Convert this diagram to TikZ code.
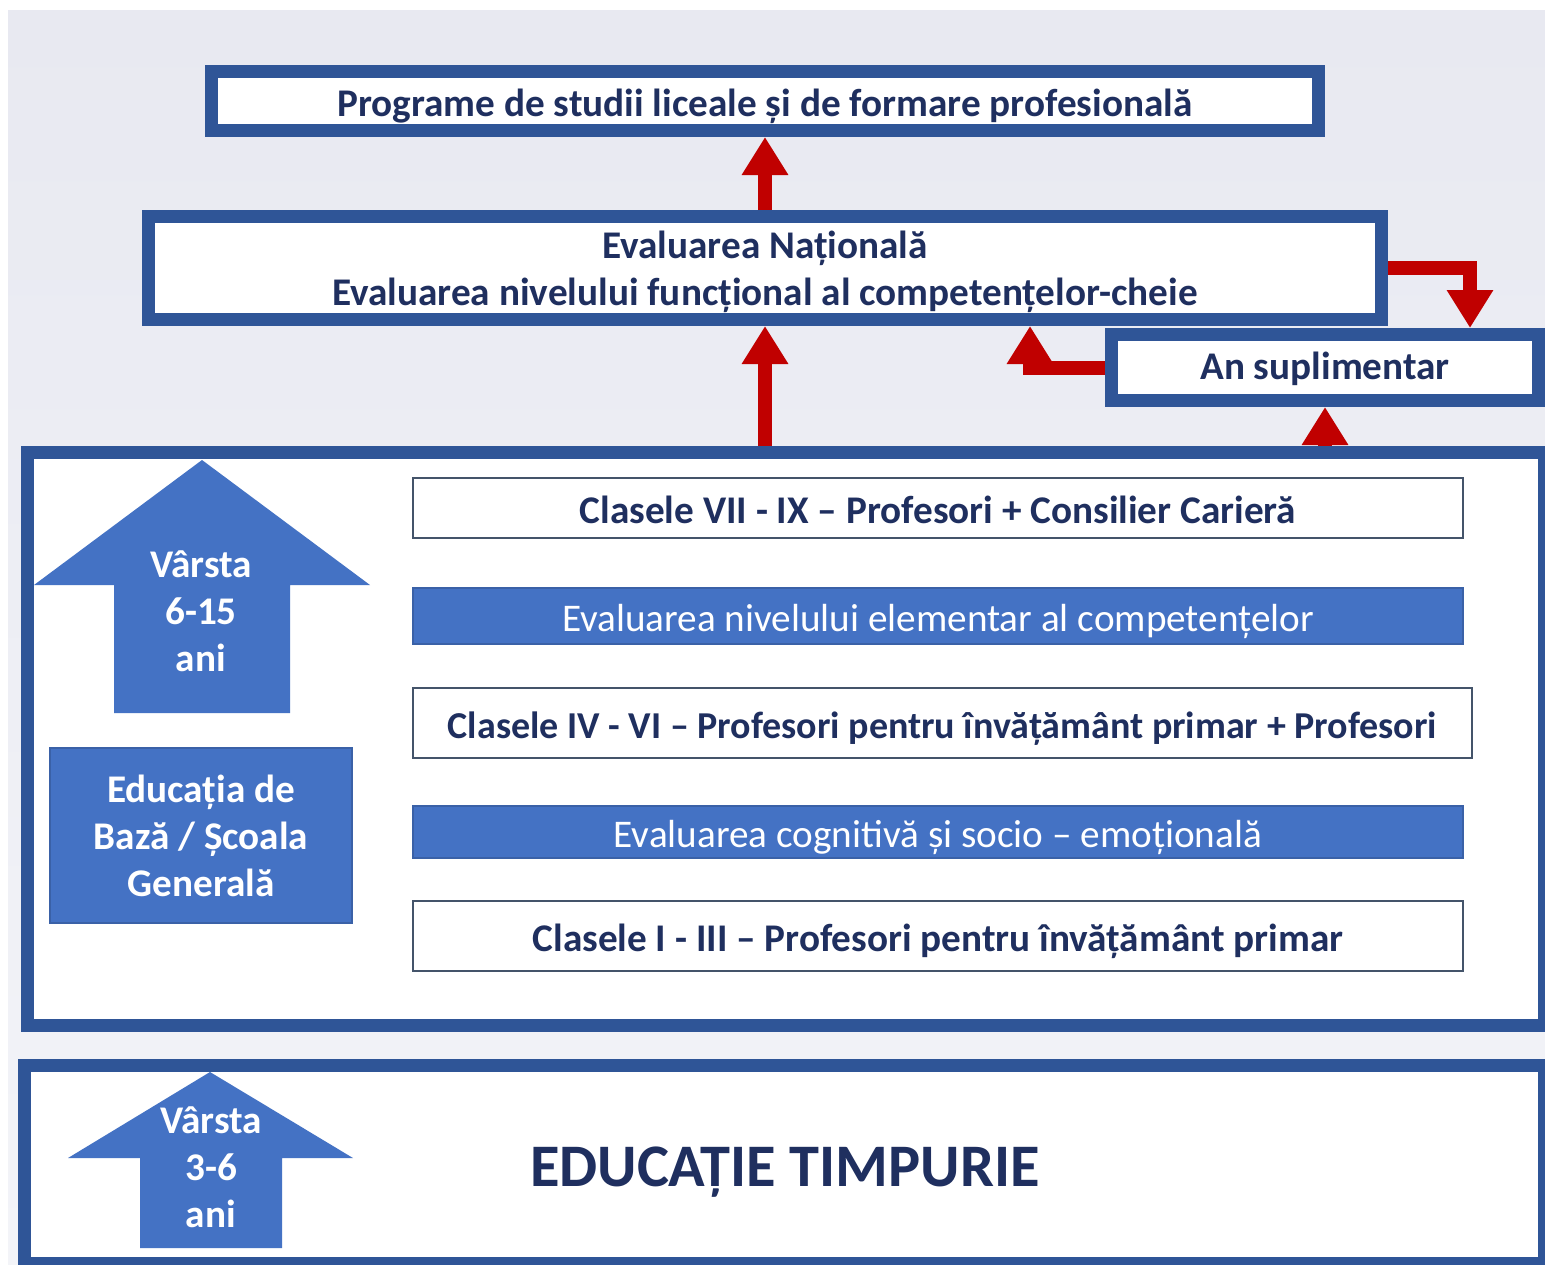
\documentclass[tikz,border=0pt]{standalone}
\usepackage{fontspec}
\setmainfont{Carlito}
\usetikzlibrary{arrows.meta,calc}
\definecolor{frameblue}{HTML}{2F5597}
\definecolor{fillblue}{HTML}{4472C4}
\definecolor{navy}{HTML}{1F2F5F}
\definecolor{arrowred}{HTML}{C00000}
\definecolor{rowline}{HTML}{44546A}
\definecolor{bgtop}{HTML}{E8E9F1}
\definecolor{bgbot}{HTML}{F3F4F8}
\begin{document}
\begin{tikzpicture}[x=0.5pt,y=-0.5pt,
  txtstyle/.style={font=\fontsize{19.6}{23.5}\selectfont\bfseries, text=navy},
  oneline/.style={text height=15.7pt, text depth=0pt},
  boxframe/.style={draw=frameblue, line width=6.5pt, fill=white, inner sep=0pt, txtstyle, align=center},
  rowbox/.style={draw=rowline, line width=1pt, fill=white, inner sep=0pt, minimum width=525pt, txtstyle, oneline},
  bluerow/.style={draw=fillblue!85!black, line width=0.6pt, fill=fillblue, inner sep=0pt, minimum width=525pt, font=\fontsize{19.6}{23.5}\selectfont, text=white, oneline},
  lefttxt/.style={font=\fontsize{19.6}{23.5}\selectfont\bfseries, text=white, align=center, inner sep=0pt},
  bluebox/.style={fill=fillblue, draw=fillblue!85!black, line width=0.6pt, lefttxt, minimum width=151pt, minimum height=87.5pt},
  redarrow/.style={draw=arrowred, line width=7pt, -{Triangle[width=22pt,length=19pt]}},
  blockarrow/.style={fill=fillblue}
]
\useasboundingbox (0,0) rectangle (1545,1264);
\fill[white] (0,0) rectangle (1545,1264);
\shade[top color=bgtop, bottom color=bgbot] (8,10) rectangle (1545,1264);

% frames
\node[boxframe, oneline, minimum width=553.5pt, minimum height=29.5pt] (prog) at (765,101) {Programe de studii liceale și de formare profesională};
\node[boxframe, minimum width=616.5pt, minimum height=51.5pt] (natl) at (765,268) {\rule{0pt}{17.5pt}Evaluarea Națională\\Evaluarea nivelului funcțional al competențelor-cheie};
\node[boxframe, text height=12pt, text depth=0pt, minimum width=213.5pt, minimum height=33pt] (ansup) at (1325,367.5) {An suplimentar};
\node[boxframe, minimum width=758.5pt, minimum height=286.5pt] (gen) at (785.5,738.5) {};
\node[boxframe, minimum width=760pt, minimum height=99pt] (early) at (784,1164) {};

% red arrows
\coordinate (rx) at (1470,0);
\coordinate (lx) at (1030,0);
\draw[redarrow] (natl.north) -- (prog.south);
\draw[redarrow] (natl.south |- gen.north) -- (natl.south);
\draw[redarrow] (natl.east) -| (rx |- ansup.north);
\draw[redarrow] (ansup.west) -| (lx |- natl.south);
\draw[redarrow] (ansup.south |- gen.north) -- (ansup.south);

% rows
\node[rowbox, minimum height=30pt] (r1) at (938,508) {Clasele VII - IX – Profesori + Consilier Carieră};
\node[bluerow, minimum height=28pt] (r2) at (938,616) {Evaluarea nivelului elementar al competențelor};
\node[rowbox, font=\fontsize{19}{23}\selectfont\bfseries, minimum width=529.5pt, minimum height=35pt] (r3) at (942.5,723) {Clasele IV - VI – Profesori pentru învățământ primar + Profesori};
\node[bluerow, minimum height=26pt] (r4) at (938,832) {Evaluarea cognitivă și socio – emoțională};
\node[rowbox, minimum height=35pt] (r5) at (938,936) {Clasele I - III – Profesori pentru învățământ primar};

% left block arrows
\fill[blockarrow] (202,460) -- (370,585) -- (290,585) -- (290,713) -- (114,713) -- (114,585) -- (34,585) -- cycle;
\node[lefttxt] (age1) at (201,611) {Vârsta\\6-15\\ani};
\node[bluebox] (base) at (201,835.5) {Educația de\\Bază / Școala\\Generală};
\fill[blockarrow] (210,1072) -- (353,1158) -- (282,1158) -- (282,1248) -- (140,1248) -- (140,1158) -- (68,1158) -- cycle;
\node[lefttxt] (age2) at (211,1167) {Vârsta\\3-6\\ani};
\node[font=\fontsize{30.2}{36}\selectfont\bfseries, text=navy, inner sep=0pt] (timp) at (785,1172) {EDUCAȚIE TIMPURIE};
\end{tikzpicture}
\end{document}
